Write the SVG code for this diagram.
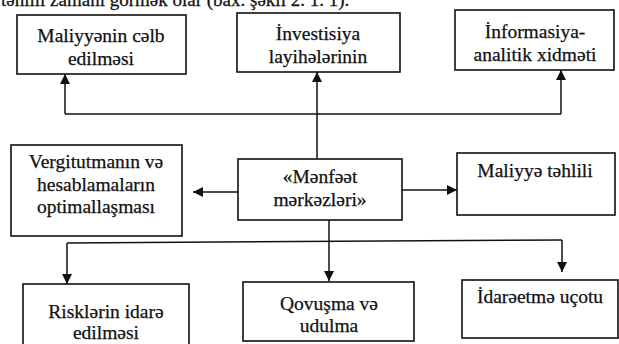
<svg xmlns="http://www.w3.org/2000/svg" width="619" height="344" viewBox="0 0 619 344">
  <defs>
    <marker id="arrow" viewBox="0 0 10 10" refX="10" refY="5" markerWidth="11" markerHeight="10" markerUnits="userSpaceOnUse" orient="auto">
      <path d="M0,0 L10,5 L0,10 Z" fill="#111"/>
    </marker>
  </defs>
  <style>
    .box { fill: #fff; stroke: #111; stroke-width: 1.6; }
    .lbl { font-family: "Liberation Serif", "DejaVu Serif", "Times New Roman", serif; font-size: 19.5px; fill: #111; stroke: #111; stroke-width: 0.25; text-anchor: middle; }
    .head { font-family: "Liberation Serif", "DejaVu Serif", "Times New Roman", serif; font-size: 19px; fill: #111; stroke: #111; stroke-width: 0.25; }
    .line { fill: none; stroke: #111; stroke-width: 1.5; }
    .arr { fill: none; stroke: #111; stroke-width: 1.5; marker-end: url(#arrow); }
  </style>
  <rect width="619" height="344" fill="#fff"/>

  <text class="head" x="1" y="6">təhlili zamanı görmək olar (bax. şəkil 2. 1. 1).</text>

  <g id="connectors">
    <!-- upward fan -->
    <line class="arr" x1="317" y1="159" x2="317" y2="72"/>
    <polyline class="line" points="65,114 561,114"/>
    <line class="arr" x1="65" y1="114" x2="65" y2="74"/>
    <line class="arr" x1="561" y1="114" x2="561" y2="70"/>
    <!-- sideways -->
    <line class="arr" x1="238" y1="192" x2="193" y2="192"/>
    <line class="arr" x1="402" y1="190" x2="457" y2="190"/>
    <!-- downward fan -->
    <line class="arr" x1="329" y1="220" x2="329" y2="281"/>
    <polyline class="line" points="67,243 562,240"/>
    <line class="arr" x1="67" y1="243" x2="67" y2="284"/>
    <line class="arr" x1="562" y1="240" x2="562" y2="272"/>
  </g>

  <g id="n-maliyye-celb">
    <rect class="box" x="17" y="15" width="169" height="59"/>
    <text class="lbl" x="101" y="42">Maliyyənin cəlb</text>
    <text class="lbl" x="101" y="65">edilməsi</text>
  </g>
  <g id="n-investisiya">
    <rect class="box" x="237" y="13" width="163" height="59"/>
    <text class="lbl" x="318" y="40">İnvestisiya</text>
    <text class="lbl" x="318" y="63">layihələrinin</text>
  </g>
  <g id="n-informasiya">
    <rect class="box" x="455" y="10" width="159" height="60"/>
    <text class="lbl" x="535" y="38">İnformasiya-</text>
    <text class="lbl" x="535" y="61">analitik xidməti</text>
  </g>
  <g id="n-vergitutma">
    <rect class="box" x="11" y="145" width="171" height="91"/>
    <text class="lbl" x="96" y="168">Vergitutmanın və</text>
    <text class="lbl" x="96" y="191">hesablamaların</text>
    <text class="lbl" x="96" y="213">optimallaşması</text>
  </g>
  <g id="n-menfeet">
    <rect class="box" x="238" y="159" width="164" height="61"/>
    <text class="lbl" x="320" y="183">«Mənfəət</text>
    <text class="lbl" x="320" y="206">mərkəzləri»</text>
  </g>
  <g id="n-maliyye-tehlili">
    <rect class="box" x="457" y="153" width="158" height="62"/>
    <text class="lbl" x="535" y="177">Maliyyə təhlili</text>
  </g>
  <g id="n-riskler">
    <rect class="box" x="23" y="284" width="166" height="62"/>
    <text class="lbl" x="106" y="318">Risklərin idarə</text>
    <text class="lbl" x="106" y="339">edilməsi</text>
  </g>
  <g id="n-qovusma">
    <rect class="box" x="243" y="282" width="171" height="59"/>
    <text class="lbl" x="329" y="310">Qovuşma və</text>
    <text class="lbl" x="329" y="332">udulma</text>
  </g>
  <g id="n-idareetme">
    <rect class="box" x="462" y="280" width="156" height="58"/>
    <text class="lbl" x="540" y="303">İdarəetmə uçotu</text>
  </g>
</svg>
